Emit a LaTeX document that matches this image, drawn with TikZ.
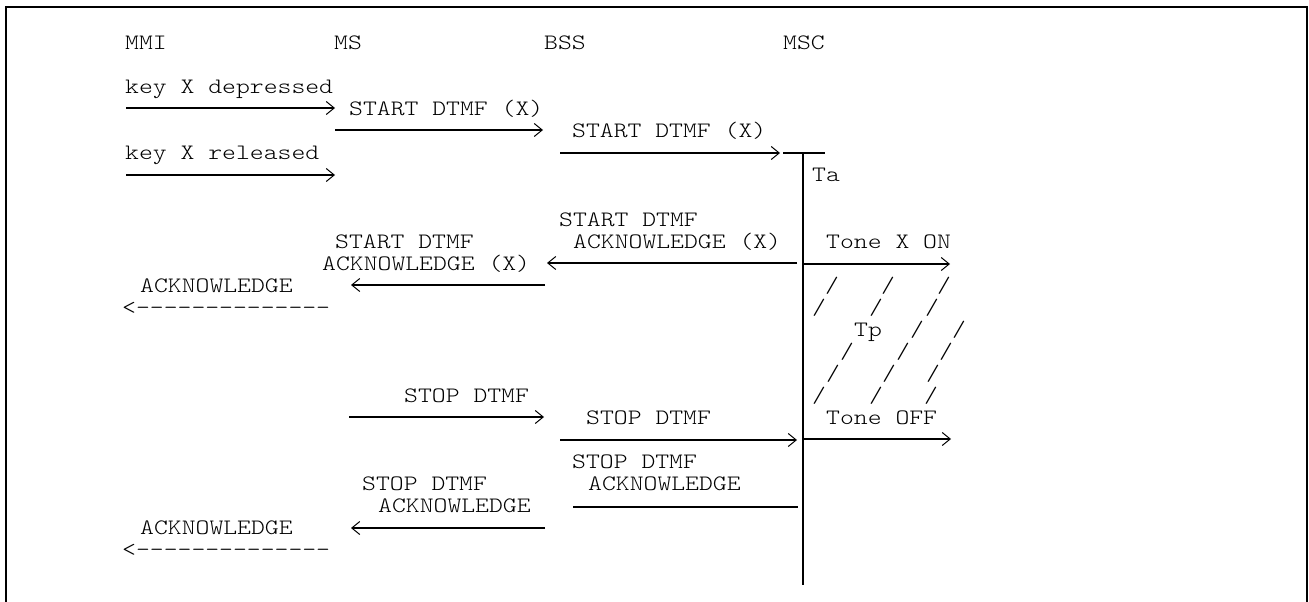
\documentclass[tikz,border=0pt]{standalone}
\usepackage{fontspec}
\setmonofont{lmmonolt10-regular.otf}[FakeStretch=1.2]
\usetikzlibrary{arrows.meta}
\begin{document}
\begin{tikzpicture}[x=1pt,y=-1pt,
  txt/.style={anchor=base west, inner sep=0pt, font=\ttfamily\fontsize{22}{26}\selectfont},
  slash/.style={anchor=base, inner sep=0pt, font=\ttfamily\fontsize{22}{26}\selectfont},
  msgline/.style={line width=1.8pt},
  msg/.style={msgline, -{Straight Barb[length=8pt,width=13pt,line width=1pt]}},
  frameline/.style={line width=2.6pt},
  lifeline/.style={line width=2.6pt}
]
\useasboundingbox (0,0) rectangle (1309,602);
% frame (open at the bottom)
\draw[frameline] (6,602) -- (6,7) -- (1307,7) -- (1307,602);

% entity labels
\node[txt] (mmi) at (125,49.7) {MMI};
\node[txt] (ms)  at (334,49.7) {MS};
\node[txt] (bss) at (544,49.7) {BSS};
\node[txt] (msc) at (783,49.7) {MSC};

% message labels
\node[txt] (kd)  at (125,93.8)  {key X depressed};
\node[txt] (sd1) at (349,115.8) {START DTMF (X)};
\node[txt] (sd2) at (572,137.9) {START DTMF (X)};
\node[txt] (kr)  at (125,159.9) {key X released};
\node[txt] (ta)  at (812,181.9) {Ta};
\node[txt] (sa1) at (559,226.0) {START DTMF};
\node[txt] (sa2) at (573,248.1) {ACKNOWLEDGE (X)};
\node[txt] (sb1) at (335,248.1) {START DTMF};
\node[txt] (sb2) at (322,270.1) {ACKNOWLEDGE (X)};
\node[txt] (ton) at (826,248.1) {Tone X ON};
\node[txt] (ack1) at (140,292.1) {ACKNOWLEDGE};
\node[txt] (dsh1) at (122,314.2) {<-{}-{}-{}-{}-{}-{}-{}-{}-{}-{}-{}-{}-{}-};
\node[txt] (tp)  at (854,336.2) {Tp};
\node[txt] (st1) at (404,402.3) {STOP DTMF};
\node[txt] (st2) at (586,424.4) {STOP DTMF};
\node[txt] (toff) at (826,424.4) {Tone OFF};
\node[txt] (sc1) at (572,468.5) {STOP DTMF};
\node[txt] (sc2) at (588,490.5) {ACKNOWLEDGE};
\node[txt] (sm1) at (362,490.5) {STOP DTMF};
\node[txt] (sm2) at (378,512.5) {ACKNOWLEDGE};
\node[txt] (ack2) at (140,534.6) {ACKNOWLEDGE};
\node[txt] (dsh2) at (122,556.6) {<-{}-{}-{}-{}-{}-{}-{}-{}-{}-{}-{}-{}-{}-};

% Tp hatching
\foreach \x/\y in {832/292.1, 888/292.1, 944/292.1,
                   819/314.2, 876/314.2, 932/314.2,
                   917/336.2, 959/336.2,
                   847/358.3, 903/358.3, 946/358.3,
                   833/380.3, 889/380.3, 933/380.3,
                   819/402.3, 876/402.3, 931/402.3}
  \node[slash] at (\x,\y) {/};

% arrow end points
\coordinate (a1s) at (126,108);  \coordinate (a1e) at (335,108);
\coordinate (a2s) at (335,130);  \coordinate (a2e) at (543,130);
\coordinate (a3s) at (560,153);  \coordinate (a3e) at (780,153);
\coordinate (t1s) at (783,153);  \coordinate (t1e) at (825,153);
\coordinate (a4s) at (126,175);  \coordinate (a4e) at (335,175);
\coordinate (a5s) at (797,263);  \coordinate (a5e) at (547,263);
\coordinate (a6s) at (803,264);  \coordinate (a6e) at (950,264);
\coordinate (a7s) at (545,285);  \coordinate (a7e) at (351,285);
\coordinate (a8s) at (349,417);  \coordinate (a8e) at (544,417);
\coordinate (a9s) at (560,440);  \coordinate (a9e) at (797,440);
\coordinate (a10s) at (803,439); \coordinate (a10e) at (951,439);
\coordinate (a11s) at (573,507); \coordinate (a11e) at (798,507);
\coordinate (a12s) at (545,528); \coordinate (a12e) at (351,528);
\coordinate (vtop) at (803,153); \coordinate (vbot) at (803,585);

\draw[msg] (a1s) -- (a1e);
\draw[msg] (a2s) -- (a2e);
\draw[msg] (a3s) -- (a3e);
\draw[msgline] (t1s) -- (t1e);
\draw[msg] (a4s) -- (a4e);
\draw[msg] (a5s) -- (a5e);
\draw[msg] (a6s) -- (a6e);
\draw[msg] (a7s) -- (a7e);
\draw[msg] (a8s) -- (a8e);
\draw[msg] (a9s) -- (a9e);
\draw[msg] (a10s) -- (a10e);
\draw[msgline] (a11s) -- (a11e);
\draw[msg] (a12s) -- (a12e);
\draw[lifeline] (vtop) -- (vbot);
\end{tikzpicture}
\end{document}
